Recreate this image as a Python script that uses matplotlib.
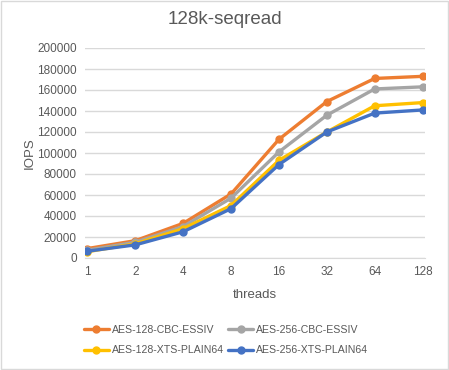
import matplotlib.pyplot as plt
from matplotlib.patches import Rectangle

threads = ['1', '2', '4', '8', '16', '32', '64', '128']
aes128_cbc = [9000, 16500, 33000, 61000, 113000, 149000, 171000, 173000]
aes256_cbc = [7500, 15000, 30000, 57000, 101000, 136000, 161000, 163000]
aes128_xts = [6000, 13500, 28000, 50000, 93000, 120000, 145000, 148000]
aes256_xts = [6500, 12500, 25000, 47000, 89000, 120000, 138000, 141000]

series = [
    ('AES-128-CBC-ESSIV', aes128_cbc, '#ED7D31'),
    ('AES-256-CBC-ESSIV', aes256_cbc, '#A5A5A5'),
    ('AES-128-XTS-PLAIN64', aes128_xts, '#FFC000'),
    ('AES-256-XTS-PLAIN64', aes256_xts, '#4472C4'),
]

text_color = '#595959'
plt.rcParams['font.family'] = ['Liberation Sans', 'DejaVu Sans']

fig = plt.figure(figsize=(4.49, 3.70), dpi=100)
ax = fig.add_axes([85 / 449, 112 / 370, 340 / 449, 210 / 370])

x = range(len(threads))
lines = {}
for name, vals, color in series:
    lines[name], = ax.plot(x, vals, color=color, linewidth=2.4, marker='o',
                           markersize=5, label=name, solid_capstyle='round')

ax.set_ylim(0, 200000)
ax.set_yticks(range(0, 200001, 20000))
ax.set_xlim(-0.05, 7.05)
ax.set_xticks(list(x))
ax.set_xticklabels(threads)
ax.grid(axis='y', color='#D9D9D9', linewidth=1)
ax.set_axisbelow(True)
for side in ['top', 'right', 'left']:
    ax.spines[side].set_visible(False)
ax.spines['bottom'].set_color('#D9D9D9')
ax.tick_params(length=0, colors=text_color, labelsize=8.5, pad=6)

ax.set_xlabel('threads', color=text_color, fontsize=9.5, labelpad=8)
ax.set_ylabel('IOPS', color=text_color, fontsize=9.5, labelpad=1)
fig.text(0.5, 1 - 20 / 370, '128k-seqread', ha='center', va='center',
         color=text_color, fontsize=13.5)

# legend fills by column, so order entries to read row by row
order = ['AES-128-CBC-ESSIV', 'AES-128-XTS-PLAIN64',
         'AES-256-CBC-ESSIV', 'AES-256-XTS-PLAIN64']
fig.legend([lines[n] for n in order], order, loc='center',
           bbox_to_anchor=(226 / 449, 1 - 340 / 370), ncol=2,
           frameon=False, fontsize=7.6, labelcolor=text_color,
           handlelength=2.4, handletextpad=0.25, columnspacing=0.4,
           labelspacing=1.0)

fig.patches.append(Rectangle((0.002, 0.003), 0.995, 0.994, transform=fig.transFigure,
                             fill=False, edgecolor='#D9D9D9', linewidth=1))

fig.savefig('out.png', dpi=100)
